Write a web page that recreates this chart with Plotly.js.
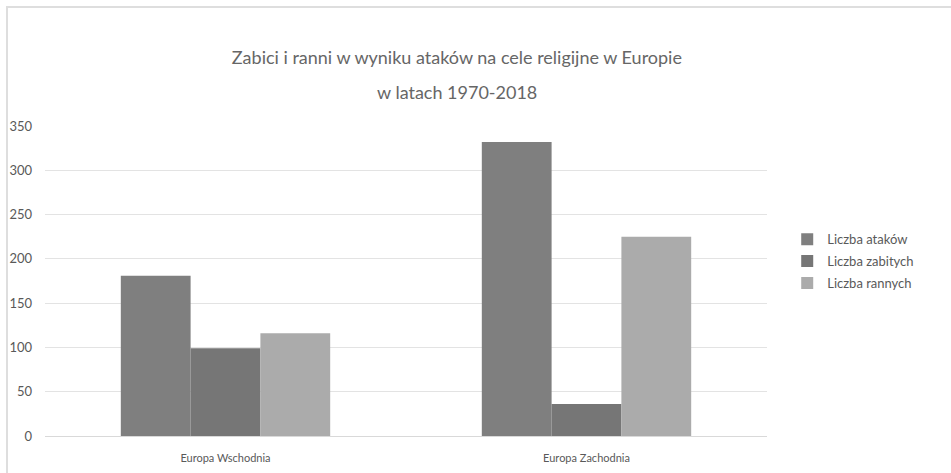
<!DOCTYPE html>
<html>
<head>
<meta charset="utf-8">
<script src="https://cdn.plot.ly/plotly-3.0.1.min.js"></script>
<style>
html,body{margin:0;padding:0;background:#fff;}
#wrap{position:relative;width:951px;height:473px;overflow:hidden;}
#chart{position:absolute;left:0;top:0;width:951px;height:473px;}
#bt{position:absolute;left:6px;top:6px;width:945px;height:2px;background:#dedede;}
#bl{position:absolute;left:6px;top:6px;width:2px;height:467px;background:#dedede;}
</style>
</head>
<body>
<div id="wrap"><div id="chart"></div><div id="bt"></div><div id="bl"></div></div>
<script>
var categories = ['Europa Wschodnia', 'Europa Zachodnia'];
var seriesNames = ['Liczba ataków', 'Liczba zabitych', 'Liczba rannych'];
var atakow = [181, 332];
var zabitych = [99, 36];
var rannych = [116, 225];
var colors = ['#7f7f7f', '#767676', '#ababab'];
var titleLine1 = 'Zabici i ranni w wyniku ataków na cele religijne w Europie';
var titleLine2 = 'w latach 1970-2018';

var values = [atakow, zabitych, rannych];
var traces = values.map(function(v, i){
  return {
    type: 'bar', x: categories, y: v, name: seriesNames[i],
    legendgroup: 'g' + i,
    marker: {color: colors[i], line: {width: 0}},
    hoverinfo: 'x+y+name'
  };
});

var FONT = 'Lato, "Open Sans", sans-serif';
var layout = {
  width: 951, height: 473,
  paper_bgcolor: '#ffffff', plot_bgcolor: '#ffffff',
  font: {family: FONT, color: '#595959'},
  margin: {l: 45, r: 184, t: 126, b: 37, pad: 0},
  title: {
    text: titleLine1,
    font: {size: 18, color: '#666666', family: FONT},
    x: 0.5705, xanchor: 'center', xref: 'paper',
    y: 1 - 58/473, yanchor: 'middle', yref: 'container'
  },
  annotations: [{
    text: titleLine2, showarrow: false,
    xref: 'paper', yref: 'paper',
    x: 0.5705, xanchor: 'center',
    y: 1 + (126 - 92)/310, yanchor: 'middle',
    font: {size: 18, color: '#666666', family: FONT}
  }],
  barmode: 'group', bargap: 0.42, bargroupgap: 0,
  xaxis: {
    type: 'category', range: [-0.5, 1.5],
    showgrid: false, zeroline: false,
    showline: true, linecolor: '#d9d9d9', linewidth: 1,
    ticks: '', tickfont: {size: 11, color: '#595959'},
    ticklabelstandoff: 12
  },
  yaxis: {
    range: [0, 350], dtick: 50, tick0: 0,
    showgrid: true, gridcolor: '#e3e3e3', gridwidth: 1,
    zeroline: false, showline: false, ticks: '',
    tickfont: {size: 13, color: '#595959'},
    ticklabelstandoff: 12
  },
  showlegend: true,
  legend: {
    x: 1.028, xanchor: 'left', y: 0.683, yanchor: 'top',
    traceorder: 'grouped', tracegroupgap: 2,
    font: {size: 13, color: '#595959'},
    itemwidth: 30, bgcolor: 'rgba(0,0,0,0)'
  }
};

Plotly.newPlot('chart', traces, layout, {displayModeBar: false, staticPlot: true});
</script>
</body>
</html>
